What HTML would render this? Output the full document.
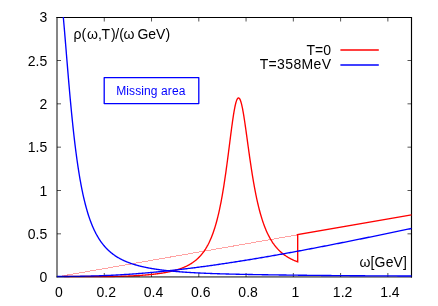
<!DOCTYPE html>
<html><head><meta charset="utf-8"><title>plot</title>
<style>html,body{margin:0;padding:0;background:#fff}body{width:438px;height:306px;overflow:hidden}#w{will-change:transform;width:438px;height:306px}</style></head>
<body>
<div id="w">
<svg width="438" height="306" viewBox="0 0 438 306" style="display:block;font-family:'Liberation Sans',sans-serif">
<rect width="438" height="306" fill="#fff"/>
<defs><clipPath id="c"><rect x="56" y="17" width="356" height="260.7"/></clipPath><filter id="g" x="0" y="0" width="438" height="306" filterUnits="userSpaceOnUse"><feOffset dx="0" dy="0"/></filter></defs>
<path d="M411.5,17 V277.4 M56.4,17.5 H412" stroke="#000" stroke-width="1.15" fill="none"/>
<path d="M57,17 V277.4 M56.5,276.95 H412" stroke="#000" stroke-width="0.95" fill="none"/>
<path d="M104.27,277 v-4 M104.27,17.5 v4 M151.53,277 v-4 M151.53,17.5 v4 M198.80,277 v-4 M198.80,17.5 v4 M246.06,277 v-4 M246.06,17.5 v4 M293.33,277 v-4 M293.33,17.5 v4 M340.60,277 v-4 M340.60,17.5 v4 M387.86,277 v-4 M387.86,17.5 v4 M57,233.84 h4 M411.5,233.84 h-4 M57,190.50 h4 M411.5,190.50 h-4 M57,147.17 h4 M411.5,147.17 h-4 M57,103.83 h4 M411.5,103.83 h-4 M57,60.50 h4 M411.5,60.50 h-4" stroke="#000" stroke-opacity="0.75" stroke-width="0.9" fill="none"/>
<g clip-path="url(#c)" fill="none">
<path d="M57,276.85 L297.70,234.8" stroke="#ffa2a2" stroke-width="1" shape-rendering="crispEdges"/>
<path d="M64.09,276.50 L64.42,276.50 L64.76,276.50 L65.09,276.50 L65.43,276.50 L65.76,276.50 L66.10,276.50 L66.43,276.50 L66.76,276.50 L67.10,276.50 L67.43,276.50 L67.77,276.50 L68.10,276.50 L68.43,276.50 L68.77,276.50 L69.10,276.50 L69.44,276.50 L69.77,276.50 L70.11,276.50 L70.44,276.50 L70.77,276.50 L71.11,276.50 L71.44,276.50 L71.78,276.50 L72.11,276.50 L72.45,276.50 L72.78,276.50 L73.11,276.50 L73.45,276.50 L73.78,276.50 L74.12,276.50 L74.45,276.50 L74.78,276.50 L75.12,276.50 L75.45,276.50 L75.79,276.50 L76.12,276.50 L76.46,276.50 L76.79,276.50 L77.12,276.50 L77.46,276.50 L77.79,276.50 L78.13,276.50 L78.46,276.50 L78.79,276.50 L79.13,276.50 L79.46,276.50 L79.80,276.50 L80.13,276.50 L80.47,276.50 L80.80,276.50 L81.13,276.50 L81.47,276.50 L81.80,276.50 L82.14,276.50 L82.47,276.50 L82.81,276.50 L83.14,276.50 L83.47,276.50 L83.81,276.50 L84.14,276.50 L84.48,276.50 L84.81,276.50 L85.14,276.50 L85.48,276.50 L85.81,276.50 L86.15,276.50 L86.48,276.50 L86.82,276.50 L87.15,276.50 L87.48,276.50 L87.82,276.50 L88.15,276.50 L88.49,276.50 L88.82,276.50 L89.16,276.50 L89.49,276.50 L89.82,276.50 L90.16,276.50 L90.49,276.50 L90.83,276.50 L91.16,276.50 L91.49,276.50 L91.83,276.50 L92.16,276.50 L92.50,276.50 L92.83,276.50 L93.17,276.50 L93.50,276.50 L93.83,276.50 L94.17,276.50 L94.50,276.50 L94.84,276.50 L95.17,276.50 L95.51,276.50 L95.84,276.50 L96.17,276.50 L96.51,276.50 L96.84,276.50 L97.18,276.50 L97.51,276.50 L97.84,276.50 L98.18,276.50 L98.51,276.50 L98.85,276.50 L99.18,276.50 L99.52,276.50 L99.85,276.50 L100.18,276.50 L100.52,276.50 L100.85,276.50 L101.19,276.50 L101.52,276.50 L101.86,276.50 L102.19,276.50 L102.52,276.50 L102.86,276.50 L103.19,276.50 L103.53,276.50 L103.86,276.50 L104.19,276.50 L104.53,276.50 L104.86,276.50 L105.20,276.50 L105.53,276.50 L105.87,276.50 L106.20,276.50 L106.53,276.50 L106.87,276.50 L107.20,276.50 L107.54,276.50 L107.87,276.50 L108.21,276.50 L108.54,276.50 L108.87,276.50 L109.21,276.50 L109.54,276.50 L109.88,276.50 L110.21,276.50 L110.54,276.50 L110.88,276.50 L111.21,276.49 L111.55,276.49 L111.88,276.49 L112.22,276.48 L112.55,276.48 L112.88,276.47 L113.22,276.47 L113.55,276.46 L113.89,276.46 L114.22,276.45 L114.56,276.45 L114.89,276.44 L115.22,276.43 L115.56,276.43 L115.89,276.42 L116.23,276.41 L116.56,276.41 L116.89,276.40 L117.23,276.39 L117.56,276.38 L117.90,276.37 L118.23,276.37 L118.57,276.36 L118.90,276.35 L119.23,276.34 L119.57,276.33 L119.90,276.32 L120.24,276.31 L120.57,276.30 L120.90,276.29 L121.24,276.28 L121.57,276.27 L121.91,276.26 L122.24,276.25 L122.58,276.24 L122.91,276.23 L123.24,276.22 L123.58,276.21 L123.91,276.20 L124.25,276.19 L124.58,276.18 L124.92,276.16 L125.25,276.15 L125.58,276.14 L125.92,276.13 L126.25,276.11 L126.59,276.10 L126.92,276.09 L127.25,276.08 L127.59,276.06 L127.92,276.05 L128.26,276.04 L128.59,276.02 L128.93,276.01 L129.26,275.99 L129.59,275.98 L129.93,275.96 L130.26,275.95 L130.60,275.93 L130.93,275.92 L131.27,275.90 L131.60,275.89 L131.93,275.87 L132.27,275.85 L132.60,275.84 L132.94,275.82 L133.27,275.80 L133.60,275.79 L133.94,275.77 L134.27,275.75 L134.61,275.73 L134.94,275.72 L135.28,275.70 L135.61,275.68 L135.94,275.66 L136.28,275.64 L136.61,275.62 L136.95,275.60 L137.28,275.58 L137.62,275.56 L137.95,275.54 L138.28,275.52 L138.62,275.50 L138.95,275.48 L139.29,275.46 L139.62,275.44 L139.95,275.41 L140.29,275.39 L140.62,275.37 L140.96,275.35 L141.29,275.32 L141.63,275.30 L141.96,275.28 L142.29,275.25 L142.63,275.23 L142.96,275.20 L143.30,275.18 L143.63,275.15 L143.97,275.13 L144.30,275.10 L144.63,275.07 L144.97,275.05 L145.30,275.02 L145.64,274.99 L145.97,274.97 L146.30,274.94 L146.64,274.91 L146.97,274.88 L147.31,274.85 L147.64,274.82 L147.98,274.79 L148.31,274.76 L148.64,274.73 L148.98,274.70 L149.31,274.67 L149.65,274.64 L149.98,274.60 L150.32,274.57 L150.65,274.54 L150.98,274.50 L151.32,274.47 L151.65,274.44 L151.99,274.40 L152.32,274.37 L152.65,274.33 L152.99,274.29 L153.32,274.26 L153.66,274.22 L153.99,274.18 L154.33,274.14 L154.66,274.10 L154.99,274.06 L155.33,274.02 L155.66,273.98 L156.00,273.94 L156.33,273.90 L156.67,273.86 L157.00,273.82 L157.33,273.77 L157.67,273.73 L158.00,273.69 L158.34,273.64 L158.67,273.60 L159.00,273.55 L159.34,273.50 L159.67,273.45 L160.01,273.41 L160.34,273.36 L160.68,273.31 L161.01,273.26 L161.34,273.21 L161.68,273.16 L162.01,273.10 L162.35,273.05 L162.68,273.00 L163.01,272.94 L163.35,272.89 L163.68,272.83 L164.02,272.78 L164.35,272.72 L164.69,272.66 L165.02,272.60 L165.35,272.54 L165.69,272.48 L166.02,272.42 L166.36,272.36 L166.69,272.29 L167.03,272.23 L167.36,272.16 L167.69,272.10 L168.03,272.03 L168.36,271.96 L168.70,271.89 L169.03,271.82 L169.36,271.75 L169.70,271.68 L170.03,271.61 L170.37,271.53 L170.70,271.46 L171.04,271.38 L171.37,271.30 L171.70,271.22 L172.04,271.14 L172.37,271.06 L172.71,270.98 L173.04,270.90 L173.38,270.81 L173.71,270.72 L174.04,270.64 L174.38,270.55 L174.71,270.46 L175.05,270.37 L175.38,270.27 L175.71,270.18 L176.05,270.08 L176.38,269.99 L176.72,269.89 L177.05,269.79 L177.39,269.68 L177.72,269.58 L178.05,269.47 L178.39,269.37 L178.72,269.26 L179.06,269.15 L179.39,269.04 L179.73,268.92 L180.06,268.81 L180.39,268.69 L180.73,268.57 L181.06,268.45 L181.40,268.32 L181.73,268.20 L182.06,268.07 L182.40,267.94 L182.73,267.81 L183.07,267.67 L183.40,267.53 L183.74,267.39 L184.07,267.25 L184.40,267.11 L184.74,266.96 L185.07,266.81 L185.41,266.66 L185.74,266.51 L186.08,266.35 L186.41,266.19 L186.74,266.02 L187.08,265.86 L187.41,265.69 L187.75,265.52 L188.08,265.34 L188.41,265.16 L188.75,264.98 L189.08,264.80 L189.42,264.61 L189.75,264.42 L190.09,264.22 L190.42,264.02 L190.75,263.82 L191.09,263.61 L191.42,263.40 L191.76,263.18 L192.09,262.96 L192.43,262.74 L192.76,262.51 L193.09,262.28 L193.43,262.04 L193.76,261.80 L194.10,261.55 L194.43,261.30 L194.76,261.05 L195.10,260.78 L195.43,260.52 L195.77,260.24 L196.10,259.96 L196.44,259.68 L196.77,259.39 L197.10,259.09 L197.44,258.79 L197.77,258.48 L198.11,258.16 L198.44,257.84 L198.77,257.51 L199.11,257.17 L199.44,256.83 L199.78,256.47 L200.11,256.11 L200.45,255.75 L200.78,255.37 L201.11,254.99 L201.45,254.59 L201.78,254.19 L202.12,253.78 L202.45,253.36 L202.79,252.93 L203.12,252.48 L203.45,252.03 L203.79,251.57 L204.12,251.10 L204.46,250.61 L204.79,250.12 L205.12,249.61 L205.46,249.09 L205.79,248.56 L206.13,248.01 L206.46,247.45 L206.80,246.88 L207.13,246.29 L207.46,245.69 L207.80,245.08 L208.13,244.44 L208.47,243.80 L208.80,243.13 L209.14,242.45 L209.47,241.75 L209.80,241.04 L210.14,240.30 L210.47,239.55 L210.81,238.77 L211.14,237.98 L211.47,237.17 L211.81,236.33 L212.14,235.47 L212.48,234.59 L212.81,233.69 L213.15,232.76 L213.48,231.81 L213.81,230.83 L214.15,229.82 L214.48,228.79 L214.82,227.73 L215.15,226.65 L215.49,225.53 L215.82,224.38 L216.15,223.21 L216.49,222.00 L216.82,220.76 L217.16,219.48 L217.49,218.17 L217.82,216.83 L218.16,215.45 L218.49,214.03 L218.83,212.58 L219.16,211.09 L219.50,209.55 L219.83,207.98 L220.16,206.37 L220.50,204.72 L220.83,203.02 L221.17,201.28 L221.50,199.50 L221.84,197.67 L222.17,195.80 L222.50,193.89 L222.84,191.93 L223.17,189.92 L223.51,187.87 L223.84,185.78 L224.17,183.64 L224.51,181.45 L224.84,179.22 L225.18,176.95 L225.51,174.64 L225.85,172.29 L226.18,169.89 L226.51,167.46 L226.85,165.00 L227.18,162.50 L227.52,159.97 L227.85,157.41 L228.19,154.83 L228.52,152.23 L228.85,149.61 L229.19,146.98 L229.52,144.35 L229.86,141.72 L230.19,139.09 L230.52,136.47 L230.86,133.87 L231.19,131.29 L231.53,128.75 L231.86,126.25 L232.20,123.80 L232.53,121.41 L232.86,119.08 L233.20,116.83 L233.53,114.67 L233.87,112.60 L234.20,110.64 L234.54,108.80 L234.87,107.08 L235.20,105.49 L235.54,104.04 L235.87,102.75 L236.21,101.60 L236.54,100.61 L236.87,99.78 L237.21,99.10 L237.54,98.58 L237.88,98.21 L238.21,98.00 L238.55,97.94 L238.88,98.03 L239.21,98.27 L239.55,98.66 L239.88,99.20 L240.22,99.89 L240.55,100.72 L240.88,101.71 L241.22,102.84 L241.55,104.12 L241.89,105.53 L242.22,107.07 L242.56,108.73 L242.89,110.51 L243.22,112.38 L243.56,114.35 L243.89,116.41 L244.23,118.54 L244.56,120.73 L244.90,122.98 L245.23,125.28 L245.56,127.62 L245.90,130.00 L246.23,132.39 L246.57,134.81 L246.90,137.24 L247.23,139.68 L247.57,142.12 L247.90,144.55 L248.24,146.98 L248.57,149.40 L248.91,151.80 L249.24,154.18 L249.57,156.54 L249.91,158.87 L250.24,161.17 L250.58,163.45 L250.91,165.69 L251.25,167.90 L251.58,170.07 L251.91,172.20 L252.25,174.30 L252.58,176.36 L252.92,178.38 L253.25,180.37 L253.58,182.31 L253.92,184.21 L254.25,186.08 L254.59,187.90 L254.92,189.68 L255.26,191.43 L255.59,193.13 L255.92,194.80 L256.26,196.43 L256.59,198.02 L256.93,199.57 L257.26,201.09 L257.60,202.57 L257.93,204.02 L258.26,205.43 L258.60,206.80 L258.93,208.15 L259.27,209.46 L259.60,210.74 L259.93,211.98 L260.27,213.20 L260.60,214.39 L260.94,215.55 L261.27,216.68 L261.61,217.78 L261.94,218.85 L262.27,219.90 L262.61,220.93 L262.94,221.93 L263.28,222.90 L263.61,223.85 L263.95,224.78 L264.28,225.68 L264.61,226.56 L264.95,227.43 L265.28,228.27 L265.62,229.09 L265.95,229.89 L266.28,230.67 L266.62,231.43 L266.95,232.18 L267.29,232.91 L267.62,233.62 L267.96,234.31 L268.29,234.99 L268.62,235.65 L268.96,236.30 L269.29,236.93 L269.63,237.55 L269.96,238.15 L270.30,238.74 L270.63,239.32 L270.96,239.88 L271.30,240.43 L271.63,240.97 L271.97,241.50 L272.30,242.01 L272.63,242.52 L272.97,243.01 L273.30,243.49 L273.64,243.96 L273.97,244.42 L274.31,244.87 L274.64,245.32 L274.97,245.75 L275.31,246.17 L275.64,246.58 L275.98,246.99 L276.31,247.39 L276.65,247.78 L276.98,248.16 L277.31,248.53 L277.65,248.89 L277.98,249.25 L278.32,249.60 L278.65,249.95 L278.98,250.28 L279.32,250.61 L279.65,250.94 L279.99,251.25 L280.32,251.56 L280.66,251.87 L280.99,252.17 L281.32,252.46 L281.66,252.75 L281.99,253.03 L282.33,253.31 L282.66,253.58 L282.99,253.84 L283.33,254.10 L283.66,254.36 L284.00,254.61 L284.33,254.86 L284.67,255.10 L285.00,255.34 L285.33,255.57 L285.67,255.80 L286.00,256.02 L286.34,256.25 L286.67,256.46 L287.01,256.68 L287.34,256.88 L287.67,257.09 L288.01,257.29 L288.34,257.49 L288.68,257.68 L289.01,257.88 L289.34,258.06 L289.68,258.25 L290.01,258.43 L290.35,258.61 L290.68,258.78 L291.02,258.96 L291.35,259.13 L291.68,259.29 L292.02,259.46 L292.35,259.62 L292.69,259.78 L293.02,259.93 L293.36,260.09 L293.69,260.24 L294.02,260.39 L294.36,260.53 L294.69,260.67 L295.03,260.82 L295.36,260.95 L295.69,261.09 L296.03,261.23 L296.36,261.36 L296.70,261.49 L297.03,261.62 L297.37,261.74 L297.70,261.87 L297.70,234.60 L411.50,214.80" stroke="#f00" stroke-width="1.35" stroke-linejoin="miter"/>
<path d="M57.00,276.50 L58.19,276.50 L59.37,276.50 L60.56,276.50 L61.74,276.49 L62.93,276.49 L64.11,276.48 L65.30,276.47 L66.48,276.47 L67.67,276.46 L68.86,276.45 L70.04,276.44 L71.23,276.42 L72.41,276.41 L73.60,276.40 L74.78,276.38 L75.97,276.36 L77.16,276.35 L78.34,276.33 L79.53,276.31 L80.71,276.29 L81.90,276.26 L83.08,276.24 L84.27,276.22 L85.45,276.19 L86.64,276.16 L87.83,276.13 L89.01,276.10 L90.20,276.07 L91.38,276.04 L92.57,276.00 L93.75,275.97 L94.94,275.93 L96.12,275.89 L97.31,275.85 L98.50,275.81 L99.68,275.77 L100.87,275.73 L102.05,275.68 L103.24,275.63 L104.42,275.59 L105.61,275.54 L106.80,275.49 L107.98,275.43 L109.17,275.38 L110.35,275.32 L111.54,275.27 L112.72,275.21 L113.91,275.15 L115.09,275.08 L116.28,275.02 L117.47,274.96 L118.65,274.89 L119.84,274.82 L121.02,274.75 L122.21,274.68 L123.39,274.61 L124.58,274.54 L125.76,274.46 L126.95,274.38 L128.14,274.30 L129.32,274.22 L130.51,274.14 L131.69,274.06 L132.88,273.97 L134.06,273.89 L135.25,273.80 L136.44,273.71 L137.62,273.62 L138.81,273.53 L139.99,273.44 L141.18,273.34 L142.36,273.24 L143.55,273.15 L144.73,273.05 L145.92,272.95 L147.11,272.84 L148.29,272.74 L149.48,272.64 L150.66,272.53 L151.85,272.42 L153.03,272.31 L154.22,272.20 L155.40,272.09 L156.59,271.98 L157.78,271.86 L158.96,271.75 L160.15,271.63 L161.33,271.51 L162.52,271.39 L163.70,271.27 L164.89,271.15 L166.08,271.03 L167.26,270.90 L168.45,270.77 L169.63,270.65 L170.82,270.52 L172.00,270.39 L173.19,270.26 L174.37,270.13 L175.56,269.99 L176.75,269.86 L177.93,269.72 L179.12,269.59 L180.30,269.45 L181.49,269.31 L182.67,269.17 L183.86,269.03 L185.05,268.89 L186.23,268.74 L187.42,268.60 L188.60,268.45 L189.79,268.30 L190.97,268.16 L192.16,268.01 L193.34,267.86 L194.53,267.71 L195.72,267.55 L196.90,267.40 L198.09,267.24 L199.27,267.09 L200.46,266.93 L201.64,266.78 L202.83,266.62 L204.01,266.46 L205.20,266.30 L206.39,266.13 L207.57,265.97 L208.76,265.81 L209.94,265.64 L211.13,265.48 L212.31,265.31 L213.50,265.14 L214.69,264.98 L215.87,264.81 L217.06,264.64 L218.24,264.47 L219.43,264.29 L220.61,264.12 L221.80,263.95 L222.98,263.77 L224.17,263.60 L225.36,263.42 L226.54,263.24 L227.73,263.06 L228.91,262.88 L230.10,262.70 L231.28,262.52 L232.47,262.34 L233.65,262.16 L234.84,261.97 L236.03,261.79 L237.21,261.60 L238.40,261.42 L239.58,261.23 L240.77,261.04 L241.95,260.85 L243.14,260.67 L244.33,260.48 L245.51,260.28 L246.70,260.09 L247.88,259.90 L249.07,259.71 L250.25,259.51 L251.44,259.32 L252.62,259.12 L253.81,258.93 L255.00,258.73 L256.18,258.53 L257.37,258.33 L258.55,258.13 L259.74,257.93 L260.92,257.73 L262.11,257.53 L263.29,257.33 L264.48,257.13 L265.67,256.93 L266.85,256.72 L268.04,256.52 L269.22,256.31 L270.41,256.11 L271.59,255.90 L272.78,255.69 L273.97,255.48 L275.15,255.28 L276.34,255.07 L277.52,254.86 L278.71,254.65 L279.89,254.43 L281.08,254.22 L282.26,254.01 L283.45,253.80 L284.64,253.58 L285.82,253.37 L287.01,253.16 L288.19,252.94 L289.38,252.73 L290.56,252.51 L291.75,252.29 L292.93,252.08 L294.12,251.86 L295.31,251.64 L296.49,251.42 L297.68,251.20 L298.86,250.98 L300.05,250.76 L301.23,250.54 L302.42,250.32 L303.61,250.10 L304.79,249.87 L305.98,249.65 L307.16,249.43 L308.35,249.20 L309.53,248.98 L310.72,248.76 L311.90,248.53 L313.09,248.30 L314.28,248.08 L315.46,247.85 L316.65,247.62 L317.83,247.40 L319.02,247.17 L320.20,246.94 L321.39,246.71 L322.57,246.48 L323.76,246.25 L324.95,246.02 L326.13,245.79 L327.32,245.56 L328.50,245.33 L329.69,245.10 L330.87,244.87 L332.06,244.64 L333.25,244.40 L334.43,244.17 L335.62,243.94 L336.80,243.70 L337.99,243.47 L339.17,243.24 L340.36,243.00 L341.54,242.77 L342.73,242.53 L343.92,242.30 L345.10,242.06 L346.29,241.82 L347.47,241.59 L348.66,241.35 L349.84,241.11 L351.03,240.88 L352.21,240.64 L353.40,240.40 L354.59,240.16 L355.77,239.92 L356.96,239.68 L358.14,239.45 L359.33,239.21 L360.51,238.97 L361.70,238.73 L362.89,238.49 L364.07,238.25 L365.26,238.01 L366.44,237.76 L367.63,237.52 L368.81,237.28 L370.00,237.04 L371.18,236.80 L372.37,236.56 L373.56,236.31 L374.74,236.07 L375.93,235.83 L377.11,235.59 L378.30,235.34 L379.48,235.10 L380.67,234.86 L381.85,234.61 L383.04,234.37 L384.23,234.13 L385.41,233.88 L386.60,233.64 L387.78,233.39 L388.97,233.15 L390.15,232.90 L391.34,232.66 L392.53,232.41 L393.71,232.17 L394.90,231.92 L396.08,231.68 L397.27,231.43 L398.45,231.18 L399.64,230.94 L400.82,230.69 L402.01,230.45 L403.20,230.20 L404.38,229.95 L405.57,229.71 L406.75,229.46 L407.94,229.21 L409.12,228.97 L410.31,228.72 L411.50,228.47" stroke="#00f" stroke-width="1.35"/>
<path d="M63.03,14.03 L63.41,18.30 L63.80,22.70 L64.19,27.19 L64.58,31.76 L64.96,36.40 L65.35,41.08 L65.74,45.79 L66.13,50.52 L66.51,55.25 L66.90,59.97 L67.29,64.67 L67.68,69.34 L68.07,73.97 L68.45,78.55 L68.84,83.08 L69.23,87.54 L69.62,91.94 L70.00,96.26 L70.39,100.51 L70.78,104.68 L71.17,108.77 L71.55,112.78 L71.94,116.69 L72.33,120.52 L72.72,124.27 L73.10,127.92 L73.49,131.49 L73.88,134.97 L74.27,138.36 L74.65,141.66 L75.04,144.88 L75.43,148.01 L75.82,151.06 L76.21,154.03 L76.59,156.91 L76.98,159.72 L77.37,162.45 L77.76,165.10 L78.14,167.69 L78.53,170.19 L78.92,172.63 L79.31,175.00 L79.69,177.31 L80.08,179.54 L80.47,181.72 L80.86,183.83 L81.24,185.89 L81.63,187.88 L82.02,189.82 L82.41,191.71 L82.79,193.54 L83.18,195.32 L83.57,197.05 L83.96,198.74 L84.35,200.37 L84.73,201.96 L85.12,203.51 L85.51,205.01 L85.90,206.48 L86.28,207.90 L86.67,209.29 L87.06,210.63 L87.45,211.94 L87.83,213.22 L88.22,214.46 L88.61,215.67 L89.00,216.85 L89.38,217.99 L89.77,219.11 L90.16,220.20 L90.55,221.26 L90.93,222.29 L91.32,223.29 L91.71,224.27 L92.10,225.23 L92.49,226.16 L92.87,227.07 L93.26,227.95 L93.65,228.81 L94.04,229.66 L94.42,230.48 L94.81,231.28 L95.20,232.06 L95.59,232.82 L95.97,233.57 L96.36,234.29 L96.75,235.00 L97.14,235.70 L97.52,236.37 L97.91,237.03 L98.30,237.68 L98.69,238.31 L99.07,238.93 L99.46,239.53 L99.85,240.12 L100.24,240.69 L100.63,241.26 L101.01,241.81 L101.40,242.35 L101.79,242.87 L102.18,243.39 L102.56,243.89 L102.95,244.39 L103.34,244.87 L103.73,245.34 L104.11,245.80 L104.50,246.26 L104.89,246.70 L105.28,247.13 L105.66,247.56 L106.05,247.97 L106.44,248.38 L106.83,248.78 L107.21,249.17 L107.60,249.56 L107.99,249.93 L108.38,250.30 L108.77,250.66 L109.15,251.01 L109.54,251.36 L109.93,251.70 L110.32,252.04 L110.70,252.36 L111.09,252.68 L111.48,253.00 L111.87,253.31 L112.25,253.61 L112.64,253.91 L113.03,254.20 L113.42,254.49 L113.80,254.77 L114.19,255.05 L114.58,255.32 L114.97,255.58 L115.35,255.85 L115.74,256.10 L116.13,256.36 L116.52,256.60 L116.91,256.85 L117.29,257.09 L117.68,257.32 L118.07,257.55 L118.46,257.78 L118.84,258.00 L119.23,258.22 L119.62,258.44 L120.01,258.65 L120.39,258.86 L120.78,259.06 L121.17,259.27 L121.56,259.46 L121.94,259.66 L122.33,259.85 L122.72,260.04 L123.11,260.22 L123.49,260.41 L123.88,260.59 L124.27,260.76 L124.66,260.94 L125.05,261.11 L125.43,261.28 L125.82,261.44 L126.21,261.61 L126.60,261.77 L126.98,261.93 L127.37,262.08 L127.76,262.24 L128.15,262.39 L128.53,262.54 L128.92,262.68 L129.31,262.83 L129.70,262.97 L130.08,263.11 L130.47,263.25 L130.86,263.38 L131.25,263.52 L131.63,263.65 L132.02,263.78 L132.41,263.91 L132.80,264.03 L133.19,264.16 L133.57,264.28 L133.96,264.40 L134.35,264.52 L134.74,264.64 L135.12,264.75 L135.51,264.87 L135.90,264.98 L136.29,265.09 L136.67,265.20 L137.06,265.31 L137.45,265.42 L137.84,265.52 L138.22,265.63 L138.61,265.73 L139.00,265.83 L139.39,265.93 L139.77,266.03 L140.16,266.13 L140.55,266.22 L140.94,266.32 L141.33,266.41 L141.71,266.50 L142.10,266.59 L142.49,266.68 L142.88,266.77 L143.26,266.86 L143.65,266.94 L144.04,267.03 L144.43,267.11 L144.81,267.20 L145.20,267.28 L145.59,267.36 L145.98,267.44 L146.36,267.52 L146.75,267.59 L147.14,267.67 L147.53,267.75 L147.91,267.82 L148.30,267.90 L148.69,267.97 L149.08,268.04 L149.47,268.11 L149.85,268.18 L150.24,268.25 L150.63,268.32 L151.02,268.39 L151.40,268.46 L151.79,268.52 L152.18,268.59 L152.57,268.65 L152.95,268.72 L153.34,268.78 L153.73,268.84 L154.12,268.91 L154.50,268.97 L154.89,269.03 L155.28,269.09 L155.67,269.15 L156.05,269.20 L156.44,269.26 L156.83,269.32 L157.22,269.37 L157.61,269.43 L157.99,269.49 L158.38,269.54 L158.77,269.59 L159.16,269.65 L159.54,269.70 L159.93,269.75 L160.32,269.80 L160.71,269.85 L161.09,269.90 L161.48,269.95 L161.87,270.00 L162.26,270.05 L162.64,270.10 L163.03,270.15 L163.42,270.19 L163.81,270.24 L164.19,270.29 L164.58,270.33 L164.97,270.38 L165.36,270.42 L165.75,270.47 L166.13,270.51 L166.52,270.55 L166.91,270.60 L167.30,270.64 L167.68,270.68 L168.07,270.72 L168.46,270.76 L168.85,270.80 L169.23,270.84 L169.62,270.88 L170.01,270.92 L170.40,270.96 L170.78,271.00 L171.17,271.04 L171.56,271.08 L171.95,271.11 L172.33,271.15 L172.72,271.19 L173.11,271.22 L173.50,271.26 L173.89,271.29 L174.27,271.33 L174.66,271.36 L175.05,271.40 L175.44,271.43 L175.82,271.46 L176.21,271.50 L176.60,271.53 L176.99,271.56 L177.37,271.60 L177.76,271.63 L178.15,271.66 L178.54,271.69 L178.92,271.72 L179.31,271.75 L179.70,271.78 L180.09,271.81 L180.47,271.84 L180.86,271.87 L181.25,271.90 L181.64,271.93 L182.03,271.96 L182.41,271.99 L182.80,272.02 L183.19,272.04 L183.58,272.07 L183.96,272.10 L184.35,272.13 L184.74,272.15 L185.13,272.18 L185.51,272.21 L185.90,272.23 L186.29,272.26 L186.68,272.28 L187.06,272.31 L187.45,272.33 L187.84,272.36 L188.23,272.38 L188.61,272.41 L189.00,272.43 L189.39,272.45 L189.78,272.48 L190.17,272.50 L190.55,272.52 L190.94,272.55 L191.33,272.57 L191.72,272.59 L192.10,272.62 L192.49,272.64 L192.88,272.66 L193.27,272.68 L193.65,272.70 L194.04,272.72 L194.43,272.75 L194.82,272.77 L195.20,272.79 L195.59,272.81 L195.98,272.83 L196.37,272.85 L196.75,272.87 L197.14,272.89 L197.53,272.91 L197.92,272.93 L198.31,272.95 L198.69,272.97 L199.08,272.98 L199.47,273.00 L199.86,273.02 L200.24,273.04 L200.63,273.06 L201.02,273.08 L201.41,273.09 L201.79,273.11 L202.18,273.13 L202.57,273.15 L202.96,273.16 L203.34,273.18 L203.73,273.20 L204.12,273.22 L204.51,273.23 L204.89,273.25 L205.28,273.27 L205.67,273.28 L206.06,273.30 L206.45,273.31 L206.83,273.33 L207.22,273.35 L207.61,273.36 L208.00,273.38 L208.38,273.39 L208.77,273.41 L209.16,273.42 L209.55,273.44 L209.93,273.45 L210.32,273.47 L210.71,273.48 L211.10,273.49 L211.48,273.51 L211.87,273.52 L212.26,273.54 L212.65,273.55 L213.03,273.57 L213.42,273.58 L213.81,273.59 L214.20,273.61 L214.59,273.62 L214.97,273.63 L215.36,273.65 L215.75,273.66 L216.14,273.67 L216.52,273.68 L216.91,273.70 L217.30,273.71 L217.69,273.72 L218.07,273.73 L218.46,273.75 L218.85,273.76 L219.24,273.77 L219.62,273.78 L220.01,273.80 L220.40,273.81 L220.79,273.82 L221.17,273.83 L221.56,273.84 L221.95,273.85 L222.34,273.86 L222.73,273.88 L223.11,273.89 L223.50,273.90 L223.89,273.91 L224.28,273.92 L224.66,273.93 L225.05,273.94 L225.44,273.95 L225.83,273.96 L226.21,273.97 L226.60,273.98 L226.99,273.99 L227.38,274.00 L227.76,274.01 L228.15,274.02 L228.54,274.03 L228.93,274.04 L229.31,274.05 L229.70,274.06 L230.09,274.07 L230.48,274.08 L230.87,274.09 L231.25,274.10 L231.64,274.11 L232.03,274.12 L232.42,274.13 L232.80,274.14 L233.19,274.15 L233.58,274.16 L233.97,274.17 L234.35,274.18 L234.74,274.19 L235.13,274.19 L235.52,274.20 L235.90,274.21 L236.29,274.22 L236.68,274.23 L237.07,274.24 L237.45,274.25 L237.84,274.26 L238.23,274.26 L238.62,274.27 L239.00,274.28 L239.39,274.29 L239.78,274.30 L240.17,274.31 L240.56,274.31 L240.94,274.32 L241.33,274.33 L241.72,274.34 L242.11,274.35 L242.49,274.35 L242.88,274.36 L243.27,274.37 L243.66,274.38 L244.04,274.38 L244.43,274.39 L244.82,274.40 L245.21,274.41 L245.59,274.41 L245.98,274.42 L246.37,274.43 L246.76,274.44 L247.14,274.44 L247.53,274.45 L247.92,274.46 L248.31,274.47 L248.70,274.47 L249.08,274.48 L249.47,274.49 L249.86,274.49 L250.25,274.50 L250.63,274.51 L251.02,274.52 L251.41,274.52 L251.80,274.53 L252.18,274.54 L252.57,274.54 L252.96,274.55 L253.35,274.56 L253.73,274.56 L254.12,274.57 L254.51,274.58 L254.90,274.58 L255.28,274.59 L255.67,274.60 L256.06,274.60 L256.45,274.61 L256.84,274.62 L257.22,274.62 L257.61,274.63 L258.00,274.63 L258.39,274.64 L258.77,274.65 L259.16,274.65 L259.55,274.66 L259.94,274.67 L260.32,274.67 L260.71,274.68 L261.10,274.68 L261.49,274.69 L261.87,274.70 L262.26,274.70 L262.65,274.71 L263.04,274.72 L263.42,274.72 L263.81,274.73 L264.20,274.73 L264.59,274.74 L264.98,274.75 L265.36,274.75 L265.75,274.76 L266.14,274.76 L266.53,274.77 L266.91,274.77 L267.30,274.78 L267.69,274.79 L268.08,274.79 L268.46,274.80 L268.85,274.80 L269.24,274.81 L269.63,274.81 L270.01,274.82 L270.40,274.83 L270.79,274.83 L271.18,274.84 L271.56,274.84 L271.95,274.85 L272.34,274.85 L272.73,274.86 L273.12,274.87 L273.50,274.87 L273.89,274.88 L274.28,274.88 L274.67,274.89 L275.05,274.89 L275.44,274.90 L275.83,274.90 L276.22,274.91 L276.60,274.91 L276.99,274.92 L277.38,274.92 L277.77,274.93 L278.15,274.94 L278.54,274.94 L278.93,274.95 L279.32,274.95 L279.70,274.96 L280.09,274.96 L280.48,274.97 L280.87,274.97 L281.26,274.98 L281.64,274.98 L282.03,274.99 L282.42,274.99 L282.81,275.00 L283.19,275.00 L283.58,275.01 L283.97,275.01 L284.36,275.02 L284.74,275.02 L285.13,275.03 L285.52,275.03 L285.91,275.04 L286.29,275.04 L286.68,275.05 L287.07,275.05 L287.46,275.06 L287.84,275.06 L288.23,275.07 L288.62,275.07 L289.01,275.08 L289.40,275.08 L289.78,275.09 L290.17,275.09 L290.56,275.10 L290.95,275.10 L291.33,275.11 L291.72,275.11 L292.11,275.12 L292.50,275.12 L292.88,275.13 L293.27,275.13 L293.66,275.14 L294.05,275.14 L294.43,275.15 L294.82,275.15 L295.21,275.16 L295.60,275.16 L295.98,275.17 L296.37,275.17 L296.76,275.18 L297.15,275.18 L297.54,275.19 L297.92,275.19 L298.31,275.20 L298.70,275.20 L299.09,275.20 L299.47,275.21 L299.86,275.21 L300.25,275.22 L300.64,275.22 L301.02,275.23 L301.41,275.23 L301.80,275.24 L302.19,275.24 L302.57,275.25 L302.96,275.25 L303.35,275.25 L303.74,275.26 L304.12,275.26 L304.51,275.27 L304.90,275.27 L305.29,275.28 L305.68,275.28 L306.06,275.29 L306.45,275.29 L306.84,275.29 L307.23,275.30 L307.61,275.30 L308.00,275.31 L308.39,275.31 L308.78,275.32 L309.16,275.32 L309.55,275.33 L309.94,275.33 L310.33,275.33 L310.71,275.34 L311.10,275.34 L311.49,275.35 L311.88,275.35 L312.26,275.36 L312.65,275.36 L313.04,275.36 L313.43,275.37 L313.82,275.37 L314.20,275.38 L314.59,275.38 L314.98,275.38 L315.37,275.39 L315.75,275.39 L316.14,275.40 L316.53,275.40 L316.92,275.40 L317.30,275.41 L317.69,275.41 L318.08,275.42 L318.47,275.42 L318.85,275.42 L319.24,275.43 L319.63,275.43 L320.02,275.44 L320.40,275.44 L320.79,275.44 L321.18,275.45 L321.57,275.45 L321.96,275.46 L322.34,275.46 L322.73,275.46 L323.12,275.47 L323.51,275.47 L323.89,275.48 L324.28,275.48 L324.67,275.48 L325.06,275.49 L325.44,275.49 L325.83,275.49 L326.22,275.50 L326.61,275.50 L326.99,275.51 L327.38,275.51 L327.77,275.51 L328.16,275.52 L328.54,275.52 L328.93,275.52 L329.32,275.53 L329.71,275.53 L330.10,275.53 L330.48,275.54 L330.87,275.54 L331.26,275.54 L331.65,275.55 L332.03,275.55 L332.42,275.56 L332.81,275.56 L333.20,275.56 L333.58,275.57 L333.97,275.57 L334.36,275.57 L334.75,275.58 L335.13,275.58 L335.52,275.58 L335.91,275.59 L336.30,275.59 L336.68,275.59 L337.07,275.60 L337.46,275.60 L337.85,275.60 L338.24,275.61 L338.62,275.61 L339.01,275.61 L339.40,275.62 L339.79,275.62 L340.17,275.62 L340.56,275.62 L340.95,275.63 L341.34,275.63 L341.72,275.63 L342.11,275.64 L342.50,275.64 L342.89,275.64 L343.27,275.65 L343.66,275.65 L344.05,275.65 L344.44,275.66 L344.82,275.66 L345.21,275.66 L345.60,275.66 L345.99,275.67 L346.38,275.67 L346.76,275.67 L347.15,275.68 L347.54,275.68 L347.93,275.68 L348.31,275.68 L348.70,275.69 L349.09,275.69 L349.48,275.69 L349.86,275.70 L350.25,275.70 L350.64,275.70 L351.03,275.70 L351.41,275.71 L351.80,275.71 L352.19,275.71 L352.58,275.72 L352.96,275.72 L353.35,275.72 L353.74,275.72 L354.13,275.73 L354.52,275.73 L354.90,275.73 L355.29,275.73 L355.68,275.74 L356.07,275.74 L356.45,275.74 L356.84,275.74 L357.23,275.75 L357.62,275.75 L358.00,275.75 L358.39,275.75 L358.78,275.76 L359.17,275.76 L359.55,275.76 L359.94,275.76 L360.33,275.77 L360.72,275.77 L361.10,275.77 L361.49,275.77 L361.88,275.78 L362.27,275.78 L362.66,275.78 L363.04,275.78 L363.43,275.79 L363.82,275.79 L364.21,275.79 L364.59,275.79 L364.98,275.79 L365.37,275.80 L365.76,275.80 L366.14,275.80 L366.53,275.80 L366.92,275.81 L367.31,275.81 L367.69,275.81 L368.08,275.81 L368.47,275.81 L368.86,275.82 L369.24,275.82 L369.63,275.82 L370.02,275.82 L370.41,275.82 L370.80,275.83 L371.18,275.83 L371.57,275.83 L371.96,275.83 L372.35,275.83 L372.73,275.84 L373.12,275.84 L373.51,275.84 L373.90,275.84 L374.28,275.84 L374.67,275.85 L375.06,275.85 L375.45,275.85 L375.83,275.85 L376.22,275.85 L376.61,275.86 L377.00,275.86 L377.38,275.86 L377.77,275.86 L378.16,275.86 L378.55,275.87 L378.94,275.87 L379.32,275.87 L379.71,275.87 L380.10,275.87 L380.49,275.87 L380.87,275.88 L381.26,275.88 L381.65,275.88 L382.04,275.88 L382.42,275.88 L382.81,275.89 L383.20,275.89 L383.59,275.89 L383.97,275.89 L384.36,275.89 L384.75,275.89 L385.14,275.90 L385.52,275.90 L385.91,275.90 L386.30,275.90 L386.69,275.90 L387.08,275.90 L387.46,275.91 L387.85,275.91 L388.24,275.91 L388.63,275.91 L389.01,275.91 L389.40,275.91 L389.79,275.92 L390.18,275.92 L390.56,275.92 L390.95,275.92 L391.34,275.92 L391.73,275.92 L392.11,275.92 L392.50,275.93 L392.89,275.93 L393.28,275.93 L393.66,275.93 L394.05,275.93 L394.44,275.93 L394.83,275.94 L395.22,275.94 L395.60,275.94 L395.99,275.94 L396.38,275.94 L396.77,275.94 L397.15,275.94 L397.54,275.95 L397.93,275.95 L398.32,275.95 L398.70,275.95 L399.09,275.95 L399.48,275.95 L399.87,275.95 L400.25,275.96 L400.64,275.96 L401.03,275.96 L401.42,275.96 L401.80,275.96 L402.19,275.96 L402.58,275.96 L402.97,275.96 L403.36,275.97 L403.74,275.97 L404.13,275.97 L404.52,275.97 L404.91,275.97 L405.29,275.97 L405.68,275.97 L406.07,275.97 L406.46,275.98 L406.84,275.98 L407.23,275.98 L407.62,275.98 L408.01,275.98 L408.39,275.98 L408.78,275.98 L409.17,275.98 L409.56,275.99 L409.94,275.99 L410.33,275.99 L410.72,275.99 L411.11,275.99 L411.50,275.99" stroke="#00f" stroke-width="1.35"/>
</g>
<path d="M57,276.5 H140" stroke="#000" stroke-opacity="0.3" stroke-width="1" fill="none"/>
<g font-size="14" fill="#000" filter="url(#g)">
<text x="59.0" y="296.5" text-anchor="middle">0</text>
<text x="106.3" y="296.5" text-anchor="middle">0.2</text>
<text x="153.5" y="296.5" text-anchor="middle">0.4</text>
<text x="200.8" y="296.5" text-anchor="middle">0.6</text>
<text x="248.1" y="296.5" text-anchor="middle">0.8</text>
<text x="295.3" y="296.5" text-anchor="middle">1</text>
<text x="342.6" y="296.5" text-anchor="middle">1.2</text>
<text x="389.9" y="296.5" text-anchor="middle">1.4</text>
<text x="47.2" y="282.2" text-anchor="end">0</text>
<text x="47.2" y="238.8" text-anchor="end">0.5</text>
<text x="47.2" y="195.5" text-anchor="end">1</text>
<text x="47.2" y="152.2" text-anchor="end">1.5</text>
<text x="47.2" y="108.8" text-anchor="end">2</text>
<text x="47.2" y="65.5" text-anchor="end">2.5</text>
<text x="47.2" y="22.2" text-anchor="end">3</text>
<text x="73.6 81.55 86.9 98.1 101.6 110.9 115.3 119.2 123.4 133.9 137.4 148.3 156 165.5" y="39.3">ρ(ω,T)/(ω GeV)</text>
<text x="407" y="266.5" text-anchor="end" textLength="47.6">ω[GeV]</text>
<text x="331" y="54.8" text-anchor="end">T=0</text>
<text x="331" y="69.1" text-anchor="end" textLength="71.3">T=358MeV</text>
</g>
<path d="M340.4,50 H378.8" stroke="#f00" stroke-width="1.35"/>
<path d="M340.4,65 H378.8" stroke="#00f" stroke-width="1.35"/>
<rect x="104.2" y="77.6" width="94.6" height="26" fill="none" stroke="#00f" stroke-width="1.3" stroke-linejoin="round"/>
<g filter="url(#g)"><text x="150.8" y="95.2" text-anchor="middle" font-size="12" fill="#00f" textLength="69.2">Missing area</text></g>
</svg>
</div>
</body></html>
